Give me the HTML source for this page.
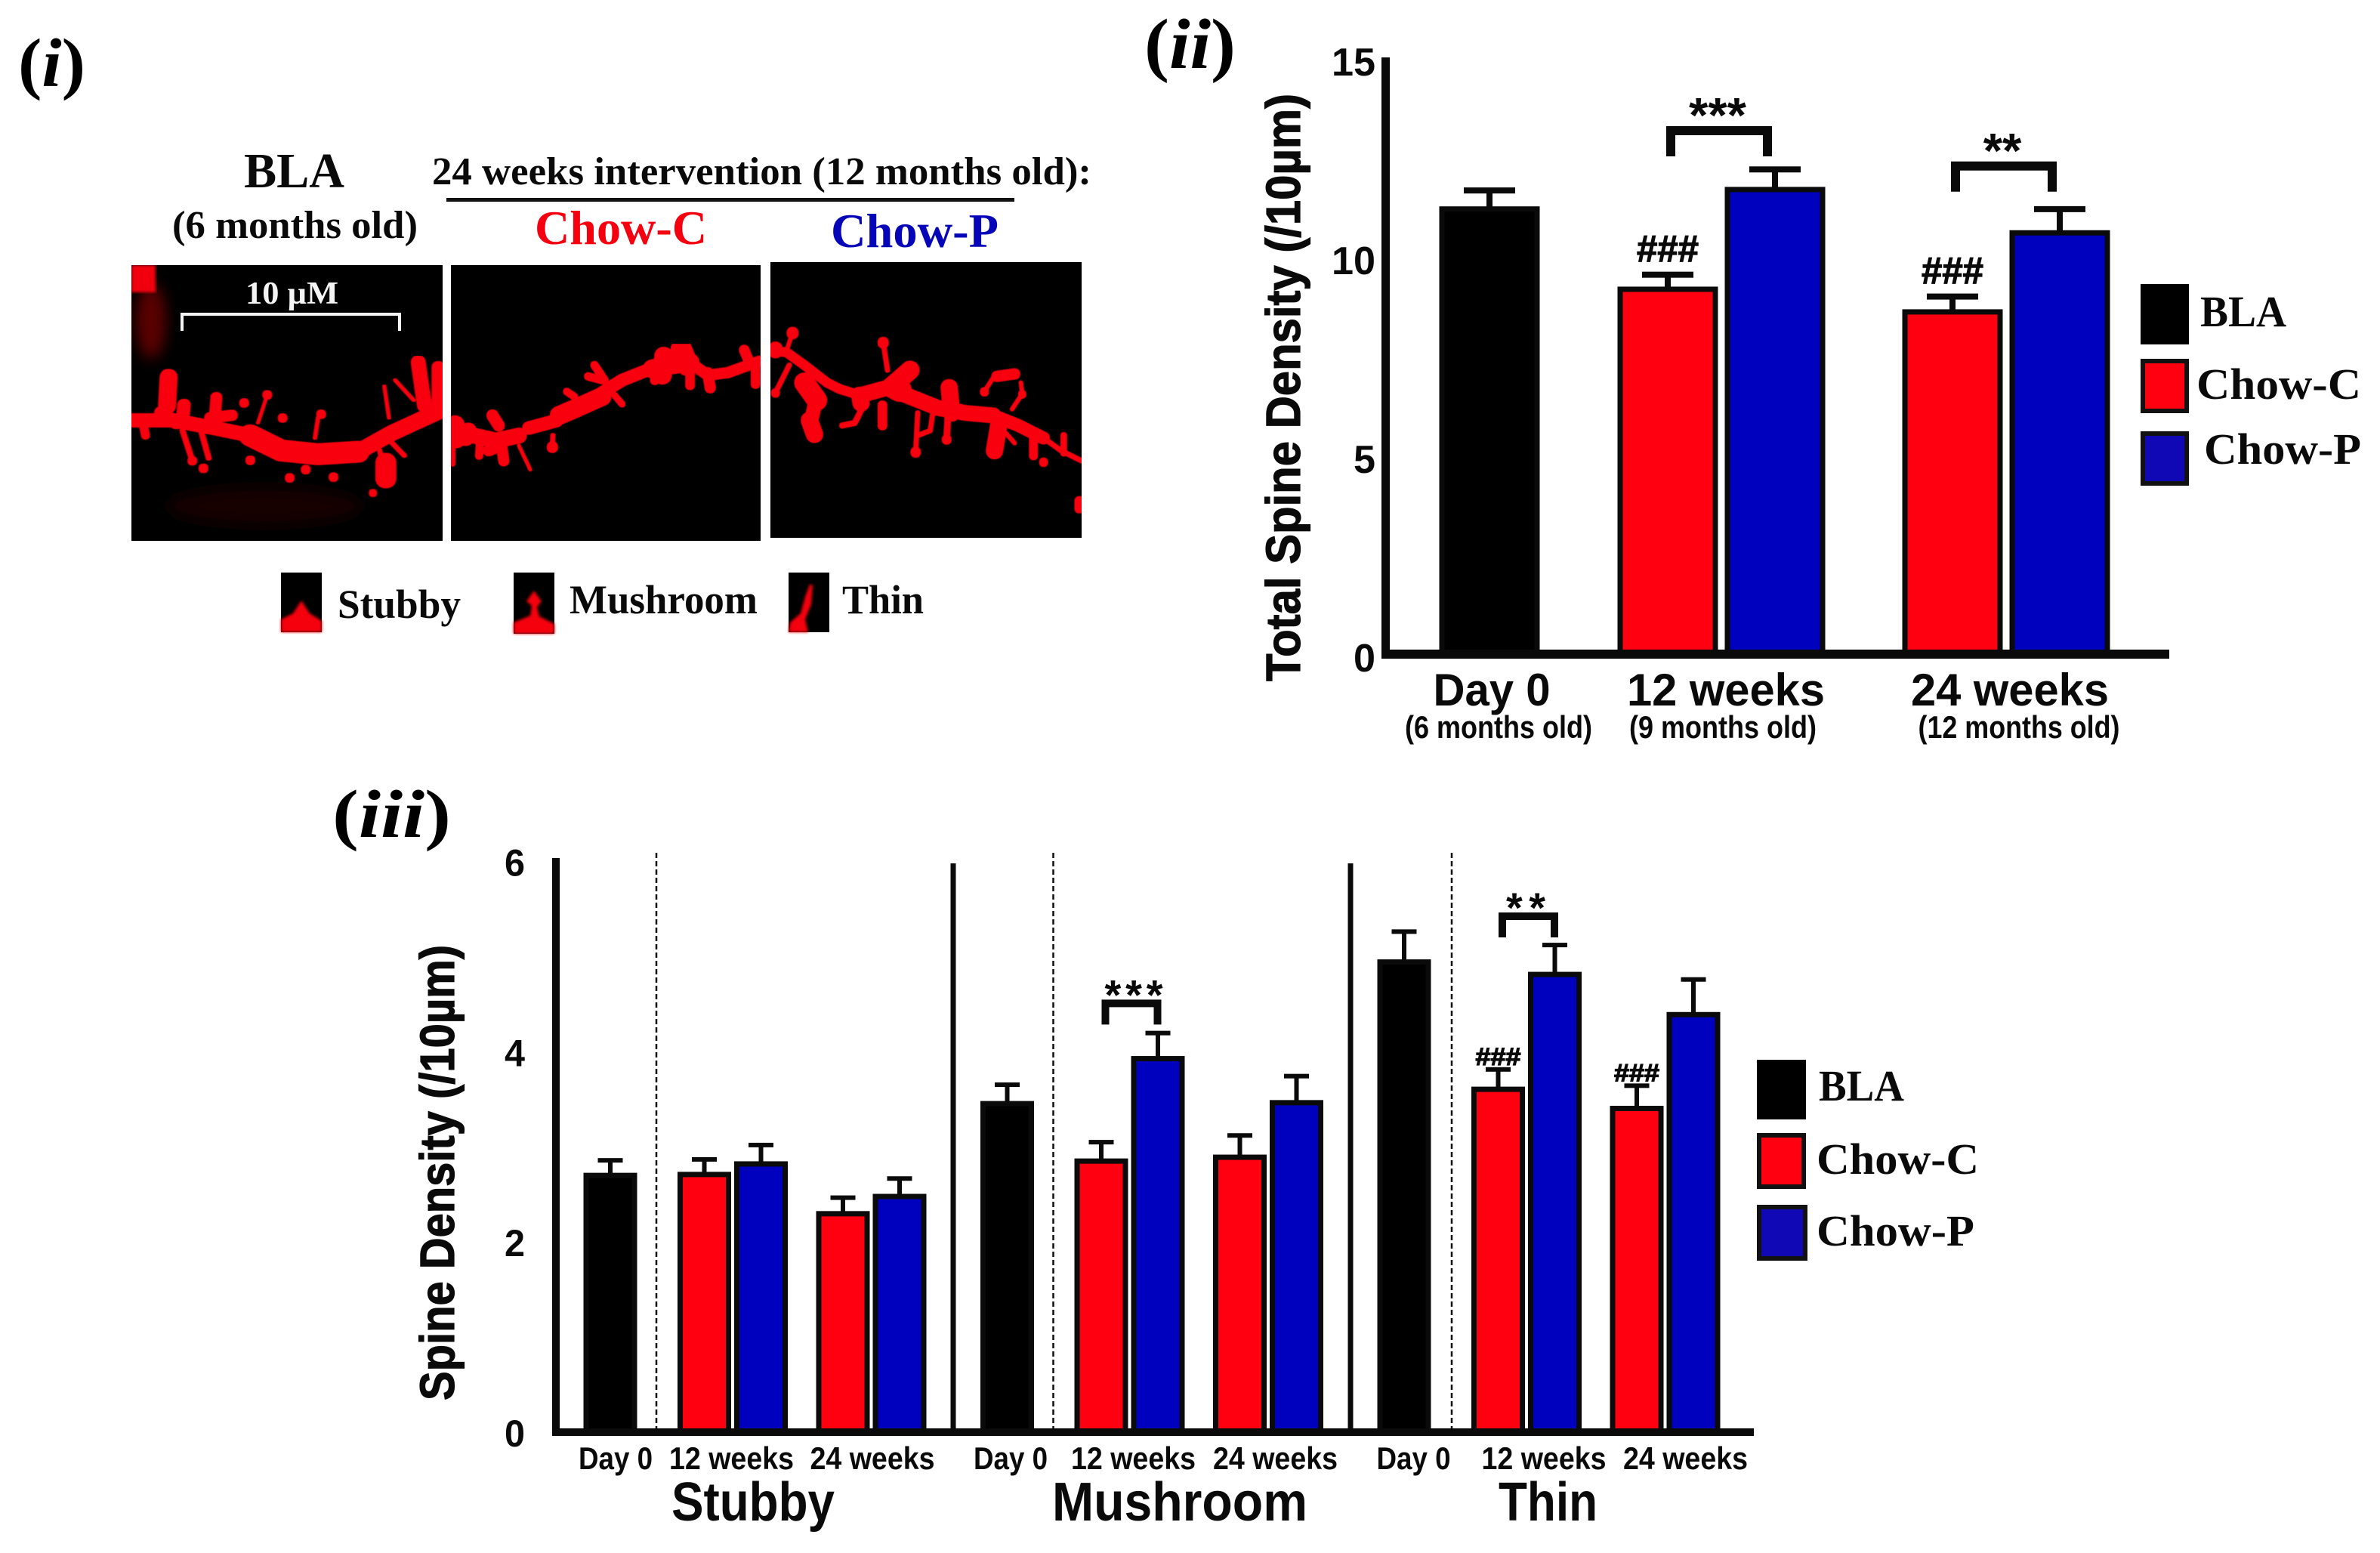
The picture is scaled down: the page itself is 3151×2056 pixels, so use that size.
<!DOCTYPE html>
<html lang="en">
<head>
<meta charset="utf-8">
<title>Spine density figure</title>
<style>
html,body{margin:0;padding:0;background:#fff;width:3151px;height:2056px;overflow:hidden}
svg{display:block}
.serif{font-family:"Liberation Serif",serif;font-weight:700;fill:#0a0a0a}
.sans{font-family:"Liberation Sans",sans-serif;font-weight:700;fill:#0a0a0a}
.heavy{stroke:#0a0a0a;stroke-width:1.2px}
.panel{font-family:"Liberation Serif",serif;font-weight:700;fill:#000}
.panel tspan{font-style:italic}
.den path{fill:none;stroke:#f8000c;stroke-linecap:round;stroke-linejoin:round;vector-effect:non-scaling-stroke}
</style>
</head>
<body>
<svg id="fig" xmlns="http://www.w3.org/2000/svg" width="3151" height="2056" viewBox="0 0 3151 2056">
<defs>
<filter id="soft" x="-5%" y="-5%" width="110%" height="110%"><feGaussianBlur stdDeviation="1.8"/></filter>
<filter id="fat" x="-5%" y="-5%" width="110%" height="110%"><feMorphology operator="dilate" radius="2"/><feGaussianBlur stdDeviation="1.8"/></filter>
<filter id="haze" x="-30%" y="-30%" width="160%" height="160%"><feGaussianBlur stdDeviation="9"/></filter>
<clipPath id="c1"><rect x="174" y="351" width="412" height="365"/></clipPath>
<clipPath id="c2"><rect x="597" y="351" width="410" height="365"/></clipPath>
<clipPath id="c3"><rect x="1020" y="347" width="412" height="365"/></clipPath>
</defs>

<!-- Panel i -->
<g>
<text class="panel" x="24" y="114" font-size="91" textLength="89" lengthAdjust="spacingAndGlyphs">(<tspan>i</tspan>)</text>
<text class="serif" x="323" y="248" font-size="66" textLength="133" lengthAdjust="spacingAndGlyphs">BLA</text>
<text class="serif" x="228" y="315" font-size="52" textLength="325" lengthAdjust="spacingAndGlyphs">(6 months old)</text>
<text class="serif" x="572" y="244" font-size="52" textLength="873" lengthAdjust="spacingAndGlyphs">24 weeks intervention (12 months old):</text>
<rect x="591" y="262" width="752" height="5" fill="#111"/>
<text class="serif" x="708" y="323" font-size="64" textLength="228" lengthAdjust="spacingAndGlyphs" style="fill:#f5000f">Chow-C</text>
<text class="serif" x="1100" y="327" font-size="64" textLength="222" lengthAdjust="spacingAndGlyphs" style="fill:#0606b8">Chow-P</text>

<g clip-path="url(#c1)">
<rect x="174" y="351" width="412" height="365" fill="#000"/>
<ellipse cx="200" cy="425" rx="20" ry="50" fill="#5a0005" filter="url(#haze)"/>
<ellipse cx="350" cy="670" rx="130" ry="26" fill="#120001" filter="url(#haze)"/>
<g class="den" filter="url(#fat)" transform="translate(160,340) scale(0.408,0.333)">
<path stroke-width="18" d="M40 650 L170 650 L300 680 L420 710"/>
<path stroke-width="28" d="M420 710 L520 770 L640 785 L770 775"/>
<path stroke-width="20" d="M770 775 L880 700 L1040 610"/>
<path stroke-width="22" d="M155 480 L150 590"/>
<path stroke-width="16" d="M205 590 L200 650 M130 620 L180 660"/>
<path stroke-width="14" d="M310 560 L305 640 M290 640 L360 630"/>
<path stroke-width="3" d="M475 550 L445 660"/>
<path stroke-width="11" d="M475 548 L475 550 M400 580 L400 582 M525 640 L525 642 M650 625 L650 627"/>
<path stroke-width="4" d="M640 640 L630 720"/>
<path stroke-width="10" d="M80 710 L70 650"/>
<path stroke-width="6" d="M232 810 L200 690 M285 800 L260 690"/>
<path stroke-width="11" d="M232 810 L232 812 M268 840 L268 842 M420 808 L420 810 M600 845 L600 847 M548 878 L548 880 M690 875 L690 877"/>
<path stroke-width="9" d="M818 938 L818 940"/>
<path stroke-width="26" d="M860 820 L860 880"/>
<path stroke-width="5" d="M840 770 L850 830 M920 790 L880 740"/>
<path stroke-width="18" d="M965 420 L985 590"/>
<path stroke-width="16" d="M1030 440 L1030 620"/>
<path stroke-width="3.5" d="M855 515 L870 640 M890 490 L950 570"/>
</g>
<rect x="174" y="351" width="32" height="36" fill="#f0000a" filter="url(#soft)"/>
<rect x="239" y="414" width="292" height="4" fill="#f4f4f4"/>
<rect x="239" y="414" width="4" height="24" fill="#f4f4f4"/>
<rect x="527" y="414" width="4" height="24" fill="#f4f4f4"/>
<text x="325" y="402" font-size="42" font-family="Liberation Serif,serif" font-weight="700" fill="#f4f4f4" textLength="123" lengthAdjust="spacingAndGlyphs">10 µM</text>
</g>

<g clip-path="url(#c2)">
<rect x="597" y="351" width="410" height="365" fill="#000"/>
<g class="den" filter="url(#fat)" transform="translate(597,400) scale(0.3333)">
<path stroke-width="20" d="M0 510 L90 530 L180 550 L270 530"/>
<path stroke-width="17" d="M310 500 L420 470"/>
<path stroke-width="24" d="M430 450 L500 420 L600 375"/>
<path stroke-width="16" d="M600 360 L680 310 L780 270"/>
<path stroke-width="24" d="M800 265 L870 250 L950 240"/>
<path stroke-width="14" d="M950 240 L1020 290 L1100 280 L1225 235"/>
<path stroke-width="26" d="M15 490 L20 540"/>
<path stroke-width="20" d="M70 510 L60 540"/>
<path stroke-width="15" d="M165 450 L190 490"/>
<path stroke-width="10" d="M112 610 L115 560"/>
<path stroke-width="14" d="M210 630 L200 560 M150 590 L200 570"/>
<path stroke-width="4" d="M315 665 L270 570"/>
<path stroke-width="14" d="M403 575 L403 577"/>
<path stroke-width="6" d="M405 530 L403 575"/>
<path stroke-width="9" d="M460 355 L490 375"/>
<path stroke-width="10" d="M570 250 L610 310 M545 295 L600 310"/>
<path stroke-width="8" d="M680 405 L650 370"/>
<path stroke-width="28" d="M915 190 L940 250"/>
<path stroke-width="24" d="M845 215 L840 290"/>
<path stroke-width="12" d="M810 310 L820 270 M950 330 L950 260"/>
<path stroke-width="14" d="M1030 340 L1020 280"/>
<path stroke-width="13" d="M1165 190 L1190 250"/>
<path stroke-width="12" d="M1210 325 L1210 250"/>
<path stroke-width="8" d="M5 640 L5 570"/>
</g>
</g>

<g clip-path="url(#c3)">
<rect x="1020" y="347" width="412" height="365" fill="#000"/>
<g class="den" filter="url(#fat)" transform="translate(1015,400) scale(0.3333)">
<path stroke-width="12" d="M20 190 L80 200 L150 250 L240 320 L290 345 L370 370"/>
<path stroke-width="20" d="M370 370 L480 340 L580 380 L680 420 L790 440 L900 450"/>
<path stroke-width="16" d="M900 450 L1000 490 L1100 540"/>
<path stroke-width="6" d="M1100 540 L1170 590 L1250 630"/>
<path stroke-width="15" d="M103 122 L103 124"/>
<path stroke-width="5" d="M103 122 L80 190"/>
<path stroke-width="14" d="M463 160 L463 162"/>
<path stroke-width="6" d="M463 160 L480 270"/>
<path stroke-width="18" d="M35 185 L35 195"/>
<path stroke-width="11" d="M35 360 L35 362"/>
<path stroke-width="6" d="M35 360 L90 250"/>
<path stroke-width="26" d="M150 320 L200 390"/>
<path stroke-width="22" d="M170 470 L190 525"/>
<path stroke-width="18" d="M195 390 L175 480"/>
<path stroke-width="7" d="M300 490 L350 480 L375 430"/>
<path stroke-width="22" d="M370 370 L375 400"/>
<path stroke-width="24" d="M570 270 L490 340"/>
<path stroke-width="30" d="M510 340 L530 350"/>
<path stroke-width="12" d="M460 490 L460 410"/>
<path stroke-width="22" d="M725 340 L735 440"/>
<path stroke-width="12" d="M715 545 L715 547"/>
<path stroke-width="8" d="M715 545 L720 450"/>
<path stroke-width="13" d="M592 595 L592 597"/>
<path stroke-width="6" d="M592 595 L600 440 M600 530 L650 510 L660 440"/>
<path stroke-width="22" d="M905 590 L925 470"/>
<path stroke-width="11" d="M865 355 L865 357"/>
<path stroke-width="5" d="M865 355 L900 300 M1010 320 L1015 365 L975 425"/>
<path stroke-width="14" d="M915 295 L985 285"/>
<path stroke-width="10" d="M1015 365 L1015 367"/>
<path stroke-width="5" d="M985 560 L950 520"/>
<path stroke-width="11" d="M1100 635 L1100 637 M1060 610 L1060 540"/>
<path stroke-width="8" d="M1180 530 L1180 600"/>
<path stroke-width="12" d="M1242 790 L1242 820"/>
</g>
</g>

<g>
<rect x="372" y="758" width="54" height="79" fill="#000"/>
<path d="M372 837 L372 820 L388 812 L399 795 L410 812 L426 822 L426 837 Z" fill="#f5000c" filter="url(#soft)"/>
</g>
<text class="serif" x="447" y="818" font-size="54" textLength="163" lengthAdjust="spacingAndGlyphs">Stubby</text>
<g>
<rect x="680" y="758" width="54" height="81" fill="#000"/>
<path d="M680 839 L680 824 L702 815 L704 802 L697 796 L707 782 L717 796 L711 804 L714 816 L734 826 L734 839 Z" fill="#f5000c" filter="url(#soft)"/>
</g>
<text class="serif" x="754" y="812" font-size="54" textLength="249" lengthAdjust="spacingAndGlyphs">Mushroom</text>
<g>
<rect x="1044" y="758" width="54" height="79" fill="#000"/>
<path d="M1044 837 L1046 824 L1060 812 L1066 790 L1072 774 L1076 774 L1074 800 L1066 820 L1070 837 Z" fill="#f5000c" filter="url(#soft)"/>
</g>
<text class="serif" x="1115" y="812" font-size="54" textLength="108" lengthAdjust="spacingAndGlyphs">Thin</text>
</g>

<!-- Panel ii static -->
<g>
<text class="panel" x="1515" y="90" font-size="94" textLength="121" lengthAdjust="spacingAndGlyphs">(<tspan>ii</tspan>)</text>
<text class="sans heavy" transform="translate(1721,902) rotate(-90)" font-size="64" textLength="778" lengthAdjust="spacingAndGlyphs">Total Spine Density (/10µm)</text>
<rect x="2834" y="376" width="64" height="80" fill="#000"/>
<rect x="2837" y="478" width="58" height="66" fill="#fe0010" stroke="#111" stroke-width="6"/>
<rect x="2837" y="574" width="58" height="66" fill="#1007b5" stroke="#111" stroke-width="6"/>
<text class="serif" x="2913" y="432" font-size="58" textLength="114" lengthAdjust="spacingAndGlyphs">BLA</text>
<text class="serif" x="2908" y="528" font-size="58" textLength="218" lengthAdjust="spacingAndGlyphs">Chow-C</text>
<text class="serif" x="2918" y="614" font-size="58" textLength="208" lengthAdjust="spacingAndGlyphs">Chow-P</text>
</g>

<!-- Panel iii static -->
<g>
<text class="panel" x="440" y="1108" font-size="90" textLength="157" lengthAdjust="spacingAndGlyphs">(<tspan>iii</tspan>)</text>
<text class="sans heavy" transform="translate(601,1854) rotate(-90)" font-size="64" textLength="603" lengthAdjust="spacingAndGlyphs">Spine Density (/10µm)</text>
<rect x="2326" y="1403" width="65" height="79" fill="#000"/>
<rect x="2329" y="1503" width="59" height="68" fill="#fe0010" stroke="#111" stroke-width="6"/>
<rect x="2329" y="1598" width="61" height="68" fill="#1007b5" stroke="#111" stroke-width="6"/>
<text class="serif" x="2408" y="1457" font-size="58" textLength="113" lengthAdjust="spacingAndGlyphs">BLA</text>
<text class="serif" x="2405" y="1554" font-size="58" textLength="215" lengthAdjust="spacingAndGlyphs">Chow-C</text>
<text class="serif" x="2405" y="1649" font-size="58" textLength="209" lengthAdjust="spacingAndGlyphs">Chow-P</text>
</g>

<g id="chart-ii"></g>
<g id="chart-iii"></g>
</svg>

<script>
// ---- Panel ii data ----
const iiCategories = ['Day 0', '12 weeks', '24 weeks'];
const iiAges = ['(6 months old)', '(9 months old)', '(12 months old)'];
const iiTicks = [0, 5, 10, 15];
const iiBla = [11.27];
const iiBlaErr = [0.40];
const iiChowC = [9.25, 8.68];
const iiChowCErr = [0.30, 0.32];
const iiChowP = [11.76, 10.67];
const iiChowPErr = [0.44, 0.53];
const iiBracketLevels = [13.29, 12.40];
const iiStars = ['***', '**'];
const iiHashes = ['###', '###'];

// ---- Panel iii data ----
const iiiTypes = ['Stubby', 'Mushroom', 'Thin'];
const iiiTimes = ['Day 0', '12 weeks', '24 weeks'];
const iiiTicks = [0, 2, 4, 6];
const iiiBla = [2.71, 3.46, 4.94];
const iiiBlaErr = [0.13, 0.17, 0.29];
const iiiChowC12 = [2.72, 2.86, 3.61];
const iiiChowC12Err = [0.13, 0.17, 0.18];
const iiiChowP12 = [2.83, 3.93, 4.81];
const iiiChowP12Err = [0.17, 0.24, 0.28];
const iiiChowC24 = [2.31, 2.90, 3.41];
const iiiChowC24Err = [0.14, 0.20, 0.21];
const iiiChowP24 = [2.49, 3.47, 4.39];
const iiiChowP24Err = [0.16, 0.25, 0.34];
const iiiBracketLevels = [null, 4.52, 5.43];
const iiiStars = [null, '***', '**'];
const iiiHash12 = [null, null, '###'];
const iiiHash24 = [null, null, '###'];

const NS = 'http://www.w3.org/2000/svg';
const RED = '#fe0010', BLUE = '#0000bf', BLACK = '#000';

function shape(parent, tag, attrs) {
  const el = document.createElementNS(NS, tag);
  for (const k in attrs) el.setAttribute(k, attrs[k]);
  parent.appendChild(el);
  return el;
}
function label(parent, str, attrs) {
  const el = shape(parent, 'text', attrs);
  el.textContent = str;
  return el;
}

function bar(parent, name, cx, width, y, y0, fill, strokeW) {
  const el = shape(parent, 'rect', {
    x: cx - width / 2 + strokeW / 2, y: y + strokeW / 2,
    width: width - strokeW, height: Math.max(0, y0 - y - strokeW / 2),
    fill: fill, stroke: '#0a0a0a', 'stroke-width': strokeW
  });
  
  
  return el;
}
function errorBar(parent, name, cx, yTop, yCap, capW, thick, stem) {
  const g = shape(parent, 'g', {});
  
  
  shape(g, 'rect', {x: cx - stem / 2, y: yCap, width: stem, height: yTop - yCap + 2, fill: '#0a0a0a'});
  shape(g, 'rect', {x: cx - capW / 2, y: yCap - thick / 2, width: capW, height: thick, fill: '#0a0a0a'});
  return g;
}
function bracket(parent, name, x1, x2, top, bottom, w) {
  const el = shape(parent, 'path', {
    d: 'M' + (x1 + w / 2) + ' ' + bottom + ' L' + (x1 + w / 2) + ' ' + (top + w / 2) + ' L' + (x2 - w / 2) + ' ' + (top + w / 2) + ' L' + (x2 - w / 2) + ' ' + bottom,
    fill: 'none', stroke: '#0a0a0a', 'stroke-width': w
  });
  
  
  return el;
}

// ---- Panel ii ----
(function () {
  const root = document.getElementById('chart-ii');
  const yII = v => 866 - 52.6 * v;
  const xII = i => (i === 0 ? 1972 : 1902 + 377 * i);
  const W = 133, OFF = 71, SW = 7;

  function drawBar(name, cx, v, e, fill) {
    errorBar(root, name + '-error', cx, yII(v), yII(v + e), 68, 8, 8);
    bar(root, name, cx, W, yII(v), yII(0), fill, SW);
  }
  iiBla.forEach((v, i) => drawBar('bar-bla-day-0', xII(0), v, iiBlaErr[i], BLACK));
  iiChowC.forEach((v, i) => drawBar('bar-chow-c-' + (i + 1), xII(i + 1) - OFF, v, iiChowCErr[i], RED));
  iiChowP.forEach((v, i) => drawBar('bar-chow-p-' + (i + 1), xII(i + 1) + OFF, v, iiChowPErr[i], BLUE));

  iiBracketLevels.forEach((lv, i) => {
    const c = xII(i + 1);
    const top = yII(lv);
    bracket(root, 'significance-bracket-' + (i + 1), c - 73, c + 67, top, top + 40, 12);
    const s = label(root, iiStars[i], {class: 'sans', x: c - 5, y: top + 8, 'font-size': 65, 'text-anchor': 'middle'});
    
    
    const capY = yII(iiChowC[i] + iiChowCErr[i]);
    const h = label(root, iiHashes[i], {class: 'sans heavy', x: c - OFF - 41, y: capY - 17, 'font-size': 50, textLength: 82, lengthAdjust: 'spacingAndGlyphs'});
    
    
  });

  const yAxis = shape(root, 'rect', {x: 1829, y: 76, width: 11, height: 796, fill: '#0a0a0a'});
  
  
  const xAxis = shape(root, 'rect', {x: 1829, y: 860, width: 1043, height: 12, fill: '#0a0a0a'});
  
  

  iiTicks.forEach(t => {
    const str = String(t);
    const el = label(root, str, {class: 'sans', x: 1821, y: yII(t) + 23, 'font-size': 52, 'text-anchor': 'end', textLength: str.length * 29, lengthAdjust: 'spacingAndGlyphs'});
    
    
  });
  const catCentre = i => (i === 0 ? 1975 : 1908 + 377 * i - (i === 2 ? 1 : 0));
  const catLen = i => (i === 0 ? 155 : 262);
  const ageCentre = i => (i === 0 ? 1984 : i === 1 ? 2281 : 2673);
  const ageLen = i => (i === 2 ? 267 : 248);
  iiCategories.forEach((c, i) => {
    const el = label(root, c, {class: 'sans', x: catCentre(i), y: 934, 'font-size': 60, 'text-anchor': 'middle', textLength: catLen(i), lengthAdjust: 'spacingAndGlyphs'});
    
    
    const a = label(root, iiAges[i], {class: 'sans', x: ageCentre(i), y: 977, 'font-size': 42, 'text-anchor': 'middle', textLength: ageLen(i), lengthAdjust: 'spacingAndGlyphs'});
    
    
  });
})();

// ---- Panel iii ----
(function () {
  const root = document.getElementById('chart-iii');
  const yIII = v => 1896 - 126.7 * v;
  const base = p => 808 + 525.5 * p;
  const W = 71, OFF = 37.5, SW = 7;
  const timeLabelShift = (p, k) => {
    if (k === 0) return [7, 4.5, 12.5][p];
    if (k === 1) return [160.5, 167, 185][p];
    return [347, 355, 372.5][p];
  };

  function drawBar(name, cx, v, e, fill) {
    errorBar(root, name + '-error', cx, yIII(v), yIII(v + e), 33, 6, 6);
    bar(root, name, cx, W, yIII(v), yIII(0), fill, SW);
  }
  iiiTypes.forEach((type, p) => {
    const key = type.toLowerCase();
    const c12 = base(p) + 162, c24 = base(p) + 345.5;
    drawBar('bar-bla-' + key, base(p), iiiBla[p], iiiBlaErr[p], BLACK);
    drawBar('bar-chow-c-12w-' + key, c12 - OFF, iiiChowC12[p], iiiChowC12Err[p], RED);
    drawBar('bar-chow-p-12w-' + key, c12 + OFF, iiiChowP12[p], iiiChowP12Err[p], BLUE);
    drawBar('bar-chow-c-24w-' + key, c24 - OFF, iiiChowC24[p], iiiChowC24Err[p], RED);
    drawBar('bar-chow-p-24w-' + key, c24 + OFF, iiiChowP24[p], iiiChowP24Err[p], BLUE);

    const dash = shape(root, 'line', {x1: base(p) + 61 + (p === 2 ? 2 : 0), x2: base(p) + 61 + (p === 2 ? 2 : 0), y1: 1129, y2: 1891, stroke: '#111', 'stroke-width': 2.5, 'stroke-dasharray': '7 4'});
    
    

    if (iiiBracketLevels[p] !== null) {
      const top = yIII(iiiBracketLevels[p]);
      bracket(root, 'significance-bracket-' + key, c12 - 37, c12 + 42, top, top + 33, 10);
      const three = iiiStars[p].length === 3;
      const s = label(root, iiiStars[p], {class: 'sans', x: c12 - (three ? 33 : 27), y: top + 13, 'font-size': 56, textLength: three ? 77 : 52, lengthAdjust: 'spacing'});
      
      
    }
    if (iiiHash12[p]) {
      const h = label(root, iiiHash12[p], {class: 'sans heavy', x: c12 - OFF - 30, y: yIII(iiiChowC12[p] + iiiChowC12Err[p]) - 6, 'font-size': 32, textLength: 60, lengthAdjust: 'spacingAndGlyphs'});
      
      
    }
    if (iiiHash24[p]) {
      const h = label(root, iiiHash24[p], {class: 'sans heavy', x: c24 - OFF - 30, y: yIII(iiiChowC24[p] + iiiChowC24Err[p]) - 6, 'font-size': 32, textLength: 60, lengthAdjust: 'spacingAndGlyphs'});
      
      
    }
    iiiTimes.forEach((t, k) => {
      const el = label(root, t, {class: 'sans', x: base(p) + timeLabelShift(p, k), y: 1945, 'font-size': 42, 'text-anchor': 'middle', textLength: k === 0 ? 98 : 165, lengthAdjust: 'spacingAndGlyphs'});
      
      
    });
  });

  [1262, 1788].forEach(x => {
    const el = shape(root, 'rect', {x: x - 3.5, y: 1143, width: 7, height: 750, fill: '#0a0a0a'});
    
    
  });
  const yAxis = shape(root, 'rect', {x: 731, y: 1136, width: 10, height: 765, fill: '#0a0a0a'});
  
  
  const xAxis = shape(root, 'rect', {x: 731, y: 1891, width: 1591, height: 10, fill: '#0a0a0a'});
  
  

  iiiTicks.forEach(t => {
    const el = label(root, String(t), {class: 'sans', x: 695, y: yIII(t) + 19 + t * 0.8, 'font-size': 50, 'text-anchor': 'end', textLength: 27, lengthAdjust: 'spacingAndGlyphs'});
    
    
  });
  const typeLeft = i => [889, 1393, 1984][i];
  const typeLen = i => [216, 338, 131][i];
  iiiTypes.forEach((t, i) => {
    const el = label(root, t, {class: 'sans', x: typeLeft(i), y: 2013, 'font-size': 72, textLength: typeLen(i), lengthAdjust: 'spacingAndGlyphs'});
    
    
  });
})();
</script>
</body>
</html>
